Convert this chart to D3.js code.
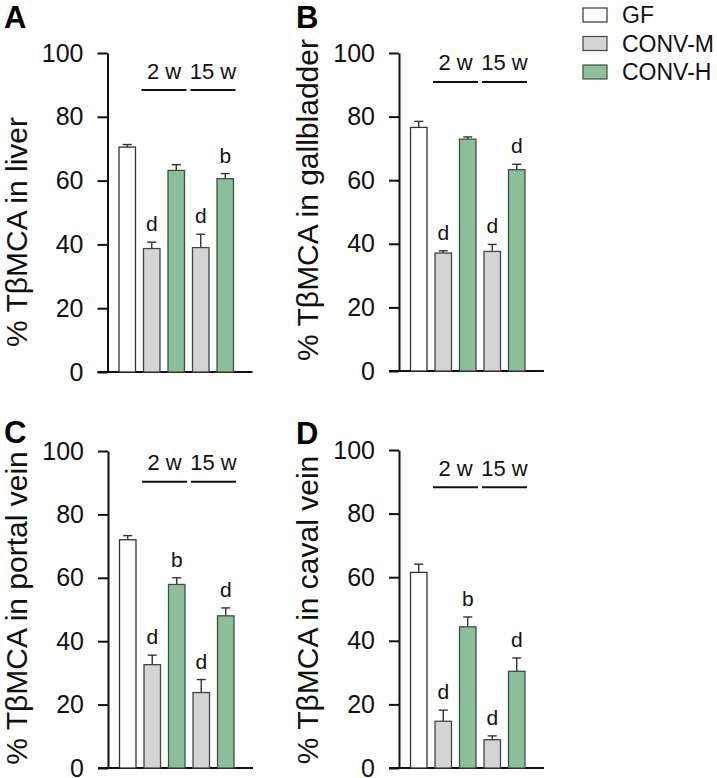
<!DOCTYPE html>
<html><head><meta charset="utf-8">
<script src="https://cdn.jsdelivr.net/npm/d3@7"></script>
<style>body{margin:0;background:#fff} text{font-family:"Liberation Sans",Arial,Helvetica,sans-serif}</style>
</head><body><svg id="c" width="717" height="778"></svg>
<script>
// ---- data ----
const groups = ["GF","CONV-M","CONV-H","CONV-M","CONV-H"];
const legendLabels = ["GF","CONV-M","CONV-H"];
const weekLabels = ["2 w","15 w"];
const yTickValues = [0,20,40,60,80,100];
const panelLetters = ["A","B","C","D"];
const yTitles = ["% TβMCA in liver","% TβMCA in gallbladder","% TβMCA in portal vein","% TβMCA in caval vein"];

const liverMean = [70.5,38.7,63.2,39.0,60.6];
const liverSem  = [0.8,2.0,1.8,4.2,1.6];
const liverSig  = ["","d","","d","b"];

const gallMean = [76.6,37.1,72.9,37.6,63.3];
const gallSem  = [1.9,0.7,0.7,2.2,1.7];
const gallSig  = ["","d","","d","d"];

const portalMean = [72.0,32.6,57.9,23.8,48.0];
const portalSem  = [1.3,3.0,2.1,4.1,2.5];
const portalSig  = ["","d","b","d","d"];

const cavalMean = [61.5,14.7,44.4,8.9,30.4];
const cavalSem  = [2.6,3.5,3.1,1.2,4.2];
const cavalSig  = ["","d","b","d","d"];

const bracketLevels = [88.4,90.9,90.3,88.3];

// ---- style / layout ----
const fills = {"GF":"#ffffff","CONV-M":"#d4d4d4","CONV-H":"#8cbf99"};
const strokes = {"GF":"#333333","CONV-M":"#444444","CONV-H":"#3b5243"};
const layout = [
  {ax:107.5, y0:372, y100:53,  lcy:232, tfs:30, lx:4,   ly:28},
  {ax:399,   y0:371, y100:53,  lcy:200, tfs:30, lx:296, ly:28},
  {ax:108,   y0:768, y100:451, lcy:608, tfs:30, lx:4,   ly:443},
  {ax:399,   y0:768, y100:450, lcy:610, tfs:30, lx:296, ly:444}
];
const means = [liverMean,gallMean,portalMean,cavalMean];
const sems = [liverSem,gallSem,portalSem,cavalSem];
const sigs = [liverSig,gallSig,portalSig,cavalSig];

const svg = d3.select("#c");

layout.forEach((L,p)=>{
  const g = svg.append("g");
  const y = d3.scaleLinear().domain([0,100]).range([L.y0,L.y100]);
  const x = d3.scaleBand().domain(d3.range(groups.length))
      .range([L.ax+7.5, L.ax+7.5+122.5]).paddingInner(0.327).paddingOuter(0.1635);
  const bw = x.bandwidth();

  // y axis
  const ya = g.append("g").attr("transform",`translate(${L.ax},0)`)
    .call(d3.axisLeft(y).tickValues(yTickValues).tickSize(10).tickSizeOuter(0).tickPadding(14));
  ya.select(".domain").attr("stroke","#111").attr("stroke-width",2);
  ya.selectAll(".tick line").attr("stroke","#111").attr("stroke-width",2);
  ya.selectAll(".tick text").attr("font-size",25).attr("fill","#111")
    .attr("font-family","Liberation Sans, Arial, sans-serif");

  // x axis line
  g.append("line").attr("x1",L.ax-10).attr("x2",L.ax+145)
    .attr("y1",y(0)).attr("y2",y(0)).attr("stroke","#111").attr("stroke-width",2);

  const data = groups.map((gr,i)=>({gr,i,m:means[p][i],s:sems[p][i],sig:sigs[p][i]}));

  // error bars
  const eb = g.append("g").selectAll("g").data(data).join("g");
  eb.append("line").attr("x1",d=>x(d.i)+bw/2).attr("x2",d=>x(d.i)+bw/2)
    .attr("y1",d=>y(d.m)).attr("y2",d=>y(d.m+d.s)).attr("stroke","#333").attr("stroke-width",1.4);
  eb.append("line").attr("x1",d=>x(d.i)+bw/2-4.5).attr("x2",d=>x(d.i)+bw/2+4.5)
    .attr("y1",d=>y(d.m+d.s)).attr("y2",d=>y(d.m+d.s)).attr("stroke","#333").attr("stroke-width",1.4);

  // bars
  g.append("g").selectAll("rect").data(data).join("rect")
    .attr("x",d=>x(d.i)).attr("width",bw)
    .attr("y",d=>y(d.m)).attr("height",d=>y(0)-y(d.m))
    .attr("fill",d=>fills[d.gr]).attr("stroke",d=>strokes[d.gr]).attr("stroke-width",1.3);

  // significance letters
  g.append("g").selectAll("text").data(data.filter(d=>d.sig)).join("text")
    .attr("x",d=>x(d.i)+bw/2).attr("y",d=>y(d.m+d.s)-11)
    .attr("text-anchor","middle").attr("font-size",21).attr("fill","#111").text(d=>d.sig);

  // week brackets
  weekLabels.forEach((w,k)=>{
    const i1 = 1+2*k, i2 = 2+2*k;
    const x1 = x(i1)-2, x2 = x(i2)+bw+2, yy = y(bracketLevels[p]);
    g.append("line").attr("x1",x1).attr("x2",x2).attr("y1",yy).attr("y2",yy)
      .attr("stroke","#111").attr("stroke-width",2);
    g.append("text").attr("x",(x1+x2)/2).attr("y",yy-11.5).attr("text-anchor","middle")
      .attr("font-size",22).attr("fill","#111").text(w);
  });

  // y title
  g.append("text").attr("transform",`translate(${L.ax-81},${L.lcy}) rotate(-90)`)
    .attr("text-anchor","middle").attr("font-size",L.tfs).attr("fill","#111").text(yTitles[p]);

  // panel letter
  g.append("text").attr("x",L.lx).attr("y",L.ly).attr("font-size",31).attr("font-weight","bold")
    .attr("fill","#000").text(panelLetters[p]);
});

// legend
const lg = svg.append("g");
legendLabels.forEach((lab,i)=>{
  lg.append("rect").attr("x",583).attr("y",8+i*28.5).attr("width",24).attr("height",14)
    .attr("fill",fills[lab]).attr("stroke",strokes[lab]).attr("stroke-width",1.2);
  lg.append("text").attr("x",622).attr("y",23+i*28.5).attr("font-size",23).attr("fill","#111").text(lab);
});
</script></body></html>
